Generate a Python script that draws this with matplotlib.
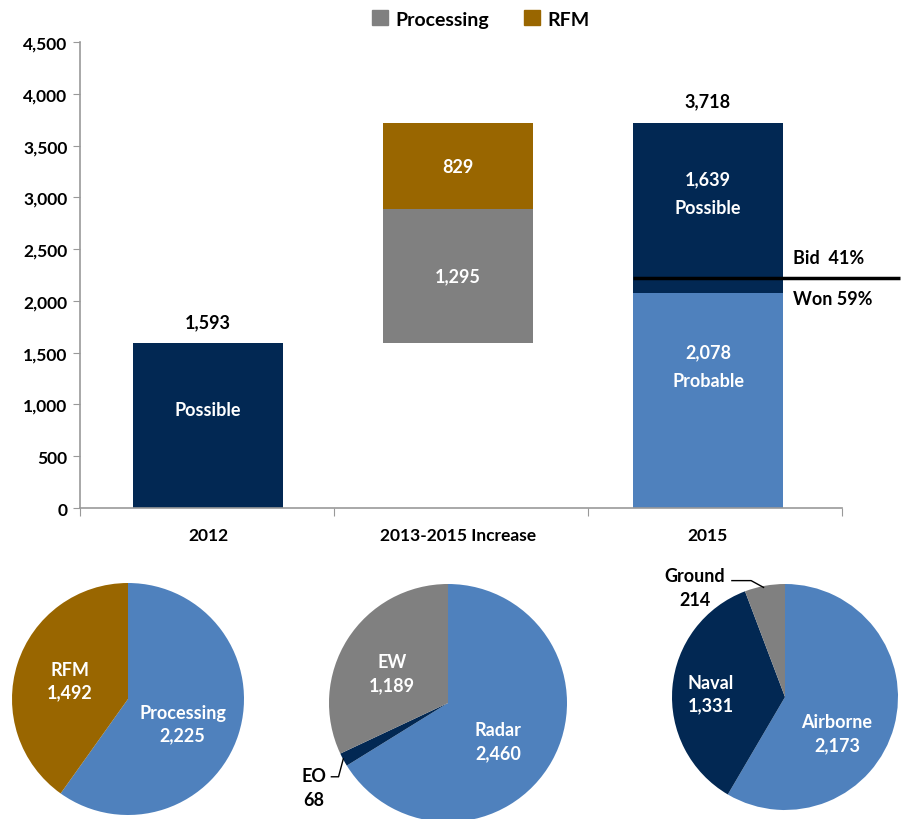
import matplotlib
matplotlib.use('Agg')
import matplotlib.pyplot as plt
from matplotlib.patches import Patch
from matplotlib.ticker import FuncFormatter

plt.rcParams['font.family'] = ['Lato', 'DejaVu Sans']
plt.rcParams['font.weight'] = 'bold'

# colours
NAVY = '#022853'
BLUE = '#4f81bd'
GRAY = '#808080'
BROWN = '#996600'

# bar chart data
categories = ['2012', '2013-2015 Increase', '2015']
possible_2012 = 1593
processing_inc = 1295
rfm_inc = 829
probable_2015 = 2078
possible_2015 = 1639
total_2015 = 3718
bid_won_level = 2220
bid_label = 'Bid  41%'
won_label = 'Won 59%'

# pie data
pie1_labels = ['Processing', 'RFM']
pie1_values = [2225, 1492]
pie2_labels = ['Radar', 'EO', 'EW']
pie2_values = [2460, 68, 1189]
pie3_labels = ['Airborne', 'Naval', 'Ground']
pie3_values = [2173, 1331, 214]

W, H = 907, 820
fig = plt.figure(figsize=(W / 100, H / 100), dpi=100)

# ---- top bar chart ----
ax = fig.add_axes([80 / W, 1 - 509 / H, (842 - 80) / W, (509 - 43) / H])
x = range(len(categories))
ax.bar(0, possible_2012, width=0.6, color=NAVY)
ax.bar(1, processing_inc, bottom=possible_2012, width=0.6, color=GRAY)
ax.bar(1, rfm_inc, bottom=possible_2012 + processing_inc, width=0.6, color=BROWN)
ax.bar(2, probable_2015, width=0.6, color=BLUE)
ax.bar(2, possible_2015, bottom=probable_2015, width=0.6, color=NAVY)

ax.set_xlim(-0.512, 2.536)
ax.set_ylim(0, 4500)
ax.set_yticks(range(0, 4501, 500))
ax.yaxis.set_major_formatter(FuncFormatter(lambda v, p: f'{int(v):,}'))
ax.set_xticks([-0.512, 0.505, 1.52, 2.536])
ax.set_xticklabels([])
ax.set_xticks(list(x), minor=True)
ax.set_xticklabels(categories, minor=True)
ax.tick_params(axis='x', which='major', length=6, color='#999999', direction='out')
ax.tick_params(axis='x', which='minor', length=0, pad=14, labelsize=12.5)
ax.tick_params(axis='y', length=5, color='#999999', labelsize=12.5, pad=4)
for s in ['top', 'right']:
    ax.spines[s].set_visible(False)
for s in ['left', 'bottom']:
    ax.spines[s].set_color('#999999')
    ax.spines[s].set_linewidth(1.2)

lab = dict(ha='center', va='center', fontsize=13, fontweight='bold')
ax.text(0, possible_2012 + 210, f'{possible_2012:,}', color='black', **lab)
ax.text(0, possible_2012 * 0.6, 'Possible', color='white', **lab)
ax.text(1, possible_2012 + processing_inc / 2, f'{processing_inc:,}', color='white', **lab)
ax.text(1, possible_2012 + processing_inc + rfm_inc / 2, f'{rfm_inc:,}', color='white', **lab)
ax.text(2, total_2015 + 210, f'{total_2015:,}', color='black', **lab)
ax.text(2, 3175, f'{possible_2015:,}', color='white', **lab)
ax.text(2, 2905, 'Possible', color='white', **lab)
ax.text(2, 1505, f'{probable_2015:,}', color='white', **lab)
ax.text(2, 1235, 'Probable', color='white', **lab)

ax.plot([1.7, 2.77], [bid_won_level, bid_won_level], color='black', lw=2.5,
        clip_on=False, solid_capstyle='butt')
ax.text(2.34, bid_won_level + 200, bid_label, ha='left', va='center', fontsize=13)
ax.text(2.34, bid_won_level - 200, won_label, ha='left', va='center', fontsize=13)

handles = [Patch(color=GRAY, label='Processing'), Patch(color=BROWN, label='RFM')]
fig.legend(handles=handles, loc='center', bbox_to_anchor=(481 / W, 1 - 20 / H),
           ncol=2, frameon=False, fontsize=14, handlelength=0.8, handleheight=0.8,
           columnspacing=1.8, handletextpad=0.4)


# ---- pies ----
def pie_axes(cx, cy, r):
    a = fig.add_axes([(cx - r) / W, 1 - (cy + r) / H, 2 * r / W, 2 * r / H])
    return a


def finish(a):
    a.axis('off')
    a.set_xlim(-1, 1)
    a.set_ylim(-1, 1)


wtxt = dict(ha='center', va='center', color='white', fontsize=13, fontweight='bold',
            linespacing=1.4)
btxt = dict(ha='center', va='center', color='black', fontsize=13, fontweight='bold',
            linespacing=1.5)

p1 = pie_axes(128, 700, 116)
p1.pie(pie1_values, colors=[BLUE, BROWN], startangle=90, counterclock=False,
       radius=1, frame=True)
finish(p1)
p1.text(0.47, -0.21, f'{pie1_labels[0]}\n{pie1_values[0]:,}', **wtxt)
p1.text(-0.5, 0.16, f'{pie1_labels[1]}\n{pie1_values[1]:,}', **wtxt)

p2 = pie_axes(448, 704, 119)
p2.pie(pie2_values, colors=[BLUE, NAVY, GRAY], startangle=90, counterclock=False,
       radius=1, frame=True)
finish(p2)
p2.text(0.42, -0.32, f'{pie2_labels[0]}\n{pie2_values[0]:,}', **wtxt)
p2.text(-0.47, 0.25, f'{pie2_labels[2]}\n{pie2_values[2]:,}', **wtxt)
p2.text(-1.13, -0.71, f'{pie2_labels[1]}\n{pie2_values[1]:,}', clip_on=False, **btxt)
p2.plot([-0.98, -0.92, -0.88], [-0.62, -0.62, -0.47], color='black', lw=1,
        clip_on=False)

p3 = pie_axes(785, 698, 113)
p3.pie(pie3_values, colors=[BLUE, NAVY, GRAY], startangle=90, counterclock=False,
       radius=1, frame=True)
finish(p3)
p3.text(0.46, -0.32, f'{pie3_labels[0]}\n{pie3_values[0]:,}', **wtxt)
p3.text(-0.66, 0.03, f'{pie3_labels[1]}\n{pie3_values[1]:,}', **wtxt)
p3.text(-0.8, 0.97, f'{pie3_labels[2]}\n{pie3_values[2]:,}', clip_on=False, **btxt)
p3.plot([-0.47, -0.3, -0.19], [1.03, 1.03, 0.97], color='black', lw=1, clip_on=False)

fig.savefig('out.png', dpi=100)
